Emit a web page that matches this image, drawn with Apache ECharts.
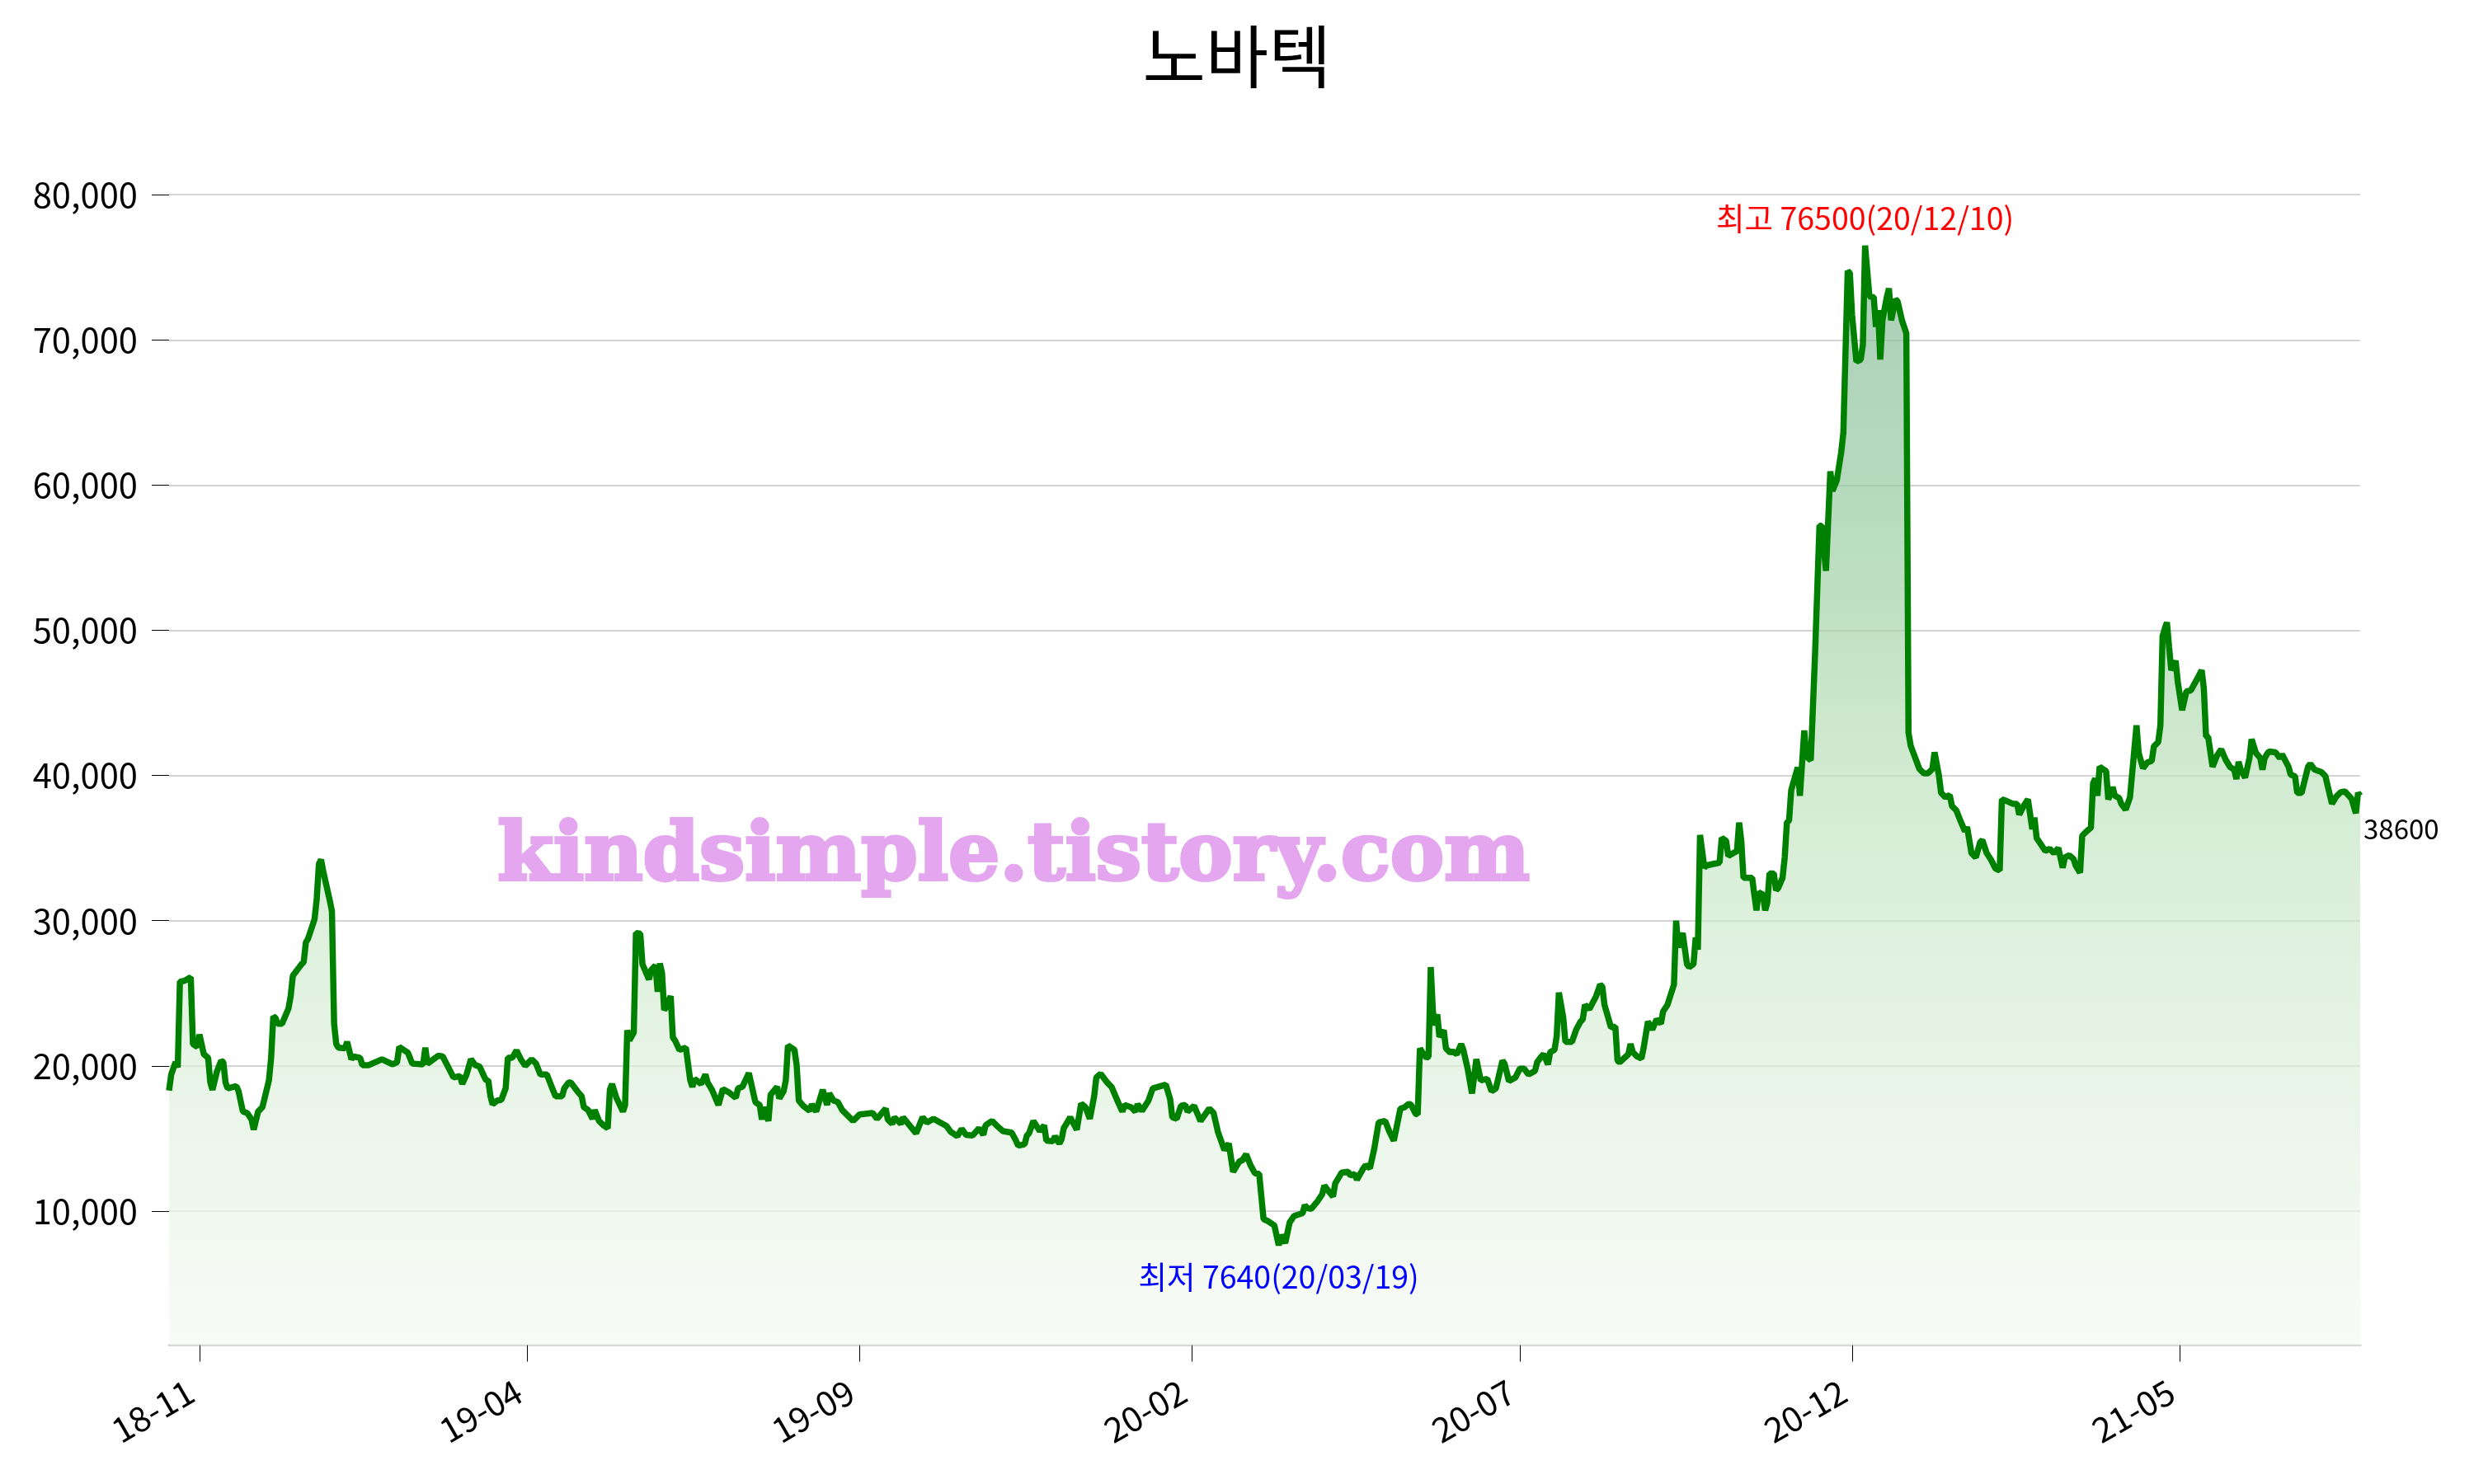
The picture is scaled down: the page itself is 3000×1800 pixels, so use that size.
<!DOCTYPE html>
<html>
<head>
<meta charset="utf-8">
<script src="https://cdn.jsdelivr.net/npm/echarts@6/dist/echarts.min.js"></script>
<style>
html,body{margin:0;padding:0;background:#fff;}
#chart{width:3000px;height:1800px;}
</style>
</head>
<body>
<div id="chart"></div>
<script>
// ---- data ----
const titleText = '노바텍';
const watermarkText = 'kindsimple.tistory.com';
const startDate = '2018-10-18';           // first trading day shown; points below are [days after startDate, close]
const maxLabelText = '최고 76500(20/12/10)';
const minLabelText = '최저 7640(20/03/19)';

const points2018 = [
  [0,18300],[1,19400],[3,20250],[4,19900],[5,25800],[7,25850],[10,26100],[11,21500],[13,21300],[14,22150],
  [16,20800],[18,20550],[19,18850],[20,18350],[22,19600],[24,20350],[25,20250],[26,18850],[27,18450],[31,18600],
  [32,18250],[34,16850],[36,16750],[38,16300],[39,15600],[41,16850],[43,17150],[46,19000],[47,20550],[48,23400],
  [49,23300],[50,22900],[52,22900],[55,23950],[56,24800],[57,26200],[61,27000],[62,27150],[63,28500],[64,28750],
  [67,30100],[68,31500],[69,33900],[70,34200],[71,33400]
];
const points2019 = [
  [74,31400],[75,30650],[76,22900],[77,21500],[78,21250],[81,21200],[82,21650],[84,20450],[85,20650],[88,20550],
  [89,20050],[92,20050],[98,20450],[103,20100],[105,20250],[106,21300],[110,20900],[112,20150],[117,20100],[118,21250],
  [119,20150],[124,20700],[126,20650],[131,19200],[134,19300],[135,18750],[137,19400],[139,20450],[141,20050],[143,19950],
  [145,19300],[146,19000],[147,19000],[148,17900],[149,17350],[151,17600],[153,17650],[155,18450],[156,20550],[158,20550],
  [160,21050],[162,20450],[164,20000],[167,20450],[169,20150],[171,19400],[174,19400],[177,18250],[178,17900],[181,17900],
  [182,18450],[184,18850],[185,18850],[188,18250],[190,17900],[191,17150],[193,16950],[195,16350],[196,16950],[198,16200],
  [200,15900],[202,15700],[203,18350],[204,18750],[206,17800],[209,16850],[210,17300],[211,22450],[212,21750],[214,22300],
  [215,29150],[217,29100],[218,27000],[221,25950],[222,26600],[224,26900],[225,25100],[226,27050],[227,26400],[228,23850],
  [229,24050],[231,24800],[232,21950],[233,21750],[235,21100],[238,21250],[240,19000],[241,18550],[242,19100],[245,18750],
  [247,19400],[248,18850],[250,18350],[253,17300],[255,18400],[258,18150],[261,17800],[262,18450],[264,18550],[267,19500],
  [270,17500],[272,17300],[273,16300],[274,17150],[276,16200],[277,18000],[280,18550],[281,17750],[283,18250],[284,19000],
  [285,21400],[288,21100],[289,20050],[290,17600],[292,17250],[295,16900],[296,17350],[298,16850],[301,18350],[303,17300],
  [304,18100],[306,17600],[308,17500],[310,16950],[315,16200],[318,16650],[324,16750],[326,16350],[330,17050],[331,16300],
  [333,16000],[334,16450],[337,16000],[338,16450],[344,15350],[347,16450],[349,16100],[352,16350],[358,15850],[360,15450],
  [363,15150],[365,15650],[367,15250],[370,15200],[373,15700],[375,15250],[376,15900],[379,16200],[381,15900],[384,15500],
  [388,15400],[390,14850],[391,14500],[394,14600],[395,15200],[396,15350],[398,16200],[401,15500],[403,15900],[404,14850],
  [407,14800],[408,15150],[410,14650],[411,14950],[412,15700],[415,16450],[418,15600],[420,17400],[422,17150],[424,16350],
  [426,17900],[427,19200],[429,19450],[432,18850],[434,18550]
];
const points2020 = [
  [437,17500],[439,16850],[440,17300],[443,17150],[445,16850],[446,17350],[448,16900],[451,17600],[453,18450],[459,18700],
  [461,17700],[462,16450],[464,16350],[466,17250],[468,17300],[469,16850],[472,17250],[475,16200],[479,17050],[481,16750],
  [483,15450],[486,14200],[488,14650],[490,12700],[493,13450],[494,13450],[496,13900],[498,13150],[500,12600],[502,12550],
  [504,9450],[506,9300],[509,9000],[511,7640],[512,8350],[514,7800],[516,9200],[518,9650],[520,9750],[522,9850],
  [523,10400],[524,10200],[526,10150],[529,10700],[531,11150],[532,11750],[534,11350],[536,11000],[537,11900],[539,12400],
  [540,12650],[543,12700],[544,12450],[546,12550],[547,12150],[550,12950],[551,13150],[553,12950],[555,14300],[557,16100],
  [560,16200],[562,15450],[564,14850],[566,16300],[567,17050],[569,17150],[571,17400],[572,17300],[574,16700],[575,16650],
  [576,21200],[577,20950],[579,20550],[580,20650],[581,26800],[582,23750],[583,22800],[584,23550],[585,22000],[587,22450],
  [588,21200],[590,20900],[591,21000],[593,20800],[595,21500],[596,21100],[598,19800],[600,18100],[602,20450],[604,19000],
  [607,19100],[609,18250],[611,18450],[614,20350],[615,20150],[617,18950],[620,19200],[622,19800],[624,19800],[626,19400],
  [629,19650],[630,20250],[632,20650],[633,20800],[635,20100],[636,20950],[638,21100],[639,22050],[640,25050],[642,23350],
  [643,21650],[646,21650],[648,22500],[650,23050],[651,23200],[652,24200],[654,23900],[657,24750],[658,25150],[659,25600],
  [660,25450],[661,24200],[664,22650],[666,22700],[667,20350],[668,20250],[672,20800],[673,21500],[674,20950],[676,20650],
  [678,20500],[679,21200],[681,23050],[683,22500],[685,23200],[687,22900],[688,23750],[690,24200],[693,25600],[694,30000],
  [695,28150],[697,29150],[699,27000],[700,26800],[702,27000],[703,28850],[704,28000],[705,35900],[707,33650],[708,33800],
  [714,34000],[715,35700],[717,35500],[718,34450],[722,34800],[723,36750],[724,35500],[725,32950],[729,32950],[730,31800],
  [731,30700],[732,31950],[734,31800],[735,30700],[736,31250],[737,33250],[739,33250],[740,32100],[741,32250],[743,32950],
  [744,34350],[745,36750],[746,36900],[747,39000],[750,40550],[751,38600],[753,43100],[754,41300],[756,41050],[758,48500],
  [760,57200],[761,57200],[763,54100],[765,60950],[766,59600],[768,60350],[770,62250],[771,63600],[773,74750],[774,74600],
  [775,71750],[777,68500],[779,68650],[780,69700],[781,76500],[783,73000],[785,72950],[786,70900],[787,72050],[788,68650],
  [789,71350],[791,72950],[792,73550],[793,71350],[795,72800],[796,72650],[798,71350],[800,70450]
];
const points2021 = [
  [801,42950],[802,42050],[806,40450],[808,40150],[810,40150],[812,40450],[813,41600],[815,40000],[816,38800],[818,38500],
  [820,38650],[821,37900],[823,37600],[825,36850],[827,36150],[828,36450],[830,34650],[832,34350],[834,35400],[835,35550],
  [837,34650],[839,34200],[841,33600],[843,33450],[844,38350],[846,38250],[849,38050],[851,38050],[852,37300],[854,37900],
  [856,38350],[858,36300],[859,37100],[860,35700],[862,35250],[864,34800],[866,34950],[868,34650],[870,35000],[872,33650],
  [873,34350],[875,34500],[877,34250],[878,33800],[880,33300],[881,35850],[883,36150],[885,36400],[886,39450],[887,39800],
  [888,38600],[889,40600],[892,40300],[893,38350],[895,39200],[896,38600],[898,38450],[899,38050],[901,37650],[903,38500],
  [906,43450],[907,41550],[909,40500],[911,40900],[913,41000],[914,42000],[916,42300],[917,43450],[918,49600],[919,50100],
  [920,50550],[921,48850],[922,47250],[924,47900],[925,46450],[927,44500],[929,45800],[931,45850],[933,46400],[936,47250],
  [937,46000],[938,42700],[939,42650],[941,40600],[943,41350],[945,41800],[947,41100],[949,40600],[951,40400],[952,39750],
  [953,40950],[954,40400],[956,39850],[958,41200],[959,42500],[961,41550],[963,41200],[964,40400],[965,41200],[966,41450],
  [967,41650],[970,41600],[972,41200],[973,41450],[976,40600],[977,40050],[979,39950],[980,38800],[982,38800],[985,40600],
  [986,40800],[988,40400],[991,40250],[993,39950],[994,39300],[996,38050],[998,38550],[1000,38850],[1002,38900],[1005,38400],
  [1007,37400],[1008,38800],[1009,38600]
];

const xTickDates  = ['2018-11-01','2019-04-01','2019-09-01','2020-02-01','2020-07-01','2020-12-01','2021-05-01'];
const xTickLabels = ['18-11','19-04','19-09','20-02','20-07','20-12','21-05'];
const yTickValues = [10000,20000,30000,40000,50000,60000,70000,80000];
const yTickLabels = ['10,000','20,000','30,000','40,000','50,000','60,000','70,000','80,000'];
const yMin = 764, yMax = 80325;

// ---- build ----
const DAY = 86400000;
const t0 = Date.parse(startDate);
const allPoints = [].concat(points2018, points2019, points2020, points2021);
const seriesData = allPoints.map(p => [t0 + p[0] * DAY, p[1]]);
const last = seriesData[seriesData.length - 1];
const xTickTs = xTickDates.map(d => Date.parse(d));
const FONT = '"Noto Sans CJK KR", "Noto Sans", sans-serif';
const CLEAR = 'rgba(0,0,0,0)';

const chart = echarts.init(document.getElementById('chart'), null, {renderer: 'canvas'});
chart.setOption({
  animation: false,
  backgroundColor: '#ffffff',
  textStyle: {fontFamily: FONT},
  title: {
    text: titleText, left: 'center', top: 22,
    textStyle: {fontSize: 83, fontWeight: 'normal', color: '#000', fontFamily: FONT}
  },
  grid: {left: 205, right: 138, top: 230.5, bottom: 168.5, containLabel: false, outerBoundsMode: 'none'},
  xAxis: {
    type: 'value',
    min: t0, max: last[0],
    axisLine: {show: true, lineStyle: {color: '#d3d3d3', width: 3}},
    axisTick: {show: true, length: 20, lineStyle: {color: '#000', width: 1}, customValues: xTickTs},
    axisLabel: {
      customValues: xTickTs, rotate: 30, margin: 47, padding: [0, 12, 0, 0],
      fontSize: 41.7, color: '#000', fontFamily: FONT,
      formatter: function (v) {
        let best = -1, bd = Infinity;
        xTickTs.forEach((t, i) => { const d = Math.abs(t - v); if (d < bd) { bd = d; best = i; } });
        return bd < DAY ? xTickLabels[best] : '';
      }
    },
    splitLine: {show: false}
  },
  yAxis: {
    type: 'value',
    min: yMin, max: yMax,
    axisLine: {show: false},
    axisTick: {show: true, length: 21, lineStyle: {color: '#000', width: 1}, customValues: yTickValues},
    axisLabel: {
      customValues: yTickValues, margin: 38, fontSize: 41.7, color: '#000', fontFamily: FONT,
      formatter: function (v) { const i = yTickValues.indexOf(Math.round(v)); return i >= 0 ? yTickLabels[i] : ''; }
    },
    splitLine: {show: true, lineStyle: {color: '#d3d3d3', width: 2}}
  },
  graphic: [{
    type: 'text', x: 1229, y: 1042, z: 100,
    style: {
      text: watermarkText, fill: 'rgb(228,166,238)', stroke: 'rgb(228,166,238)', lineWidth: 4,
      textAlign: 'center', textVerticalAlign: 'middle',
      font: 'bold 98px "DejaVu Serif", serif'
    }
  }],
  series: [{
    type: 'line',
    data: seriesData,
    showSymbol: false,
    smooth: false,
    lineStyle: {color: '#008000', width: 7.5},
    itemStyle: {color: '#008000'},
    areaStyle: {
      origin: 'start',
      color: {
        type: 'linear', x: 0, y: 0, x2: 0, y2: 1,
        colorStops: [
          {offset: 0, color: 'rgb(135,187,152)'},
          {offset: 0.22, color: 'rgb(150,201,162)'},
          {offset: 0.35, color: 'rgb(168,213,171)'},
          {offset: 0.48, color: 'rgb(190,226,190)'},
          {offset: 0.61, color: 'rgb(207,234,205)'},
          {offset: 0.75, color: 'rgb(222,240,220)'},
          {offset: 0.88, color: 'rgb(234,245,232)'},
          {offset: 1, color: 'rgb(245,250,244)'}
        ]
      }
    },
    markPoint: {
      symbol: 'circle', symbolSize: 2,
      itemStyle: {color: CLEAR, borderColor: CLEAR},
      data: [
        {type: 'max', label: {show: true, formatter: maxLabelText, position: 'top', distance: 12, color: '#ff0000', fontSize: 37.5, fontFamily: FONT}},
        {type: 'min', label: {show: true, formatter: minLabelText, position: 'bottom', distance: 18, color: '#0000ff', fontSize: 37.5, fontFamily: FONT}},
        {coord: last, label: {show: true, formatter: String(last[1]), position: 'right', distance: 2, offset: [0, 40], color: '#000', fontSize: 33, fontFamily: FONT}}
      ]
    }
  }]
});
</script>
</body>
</html>
